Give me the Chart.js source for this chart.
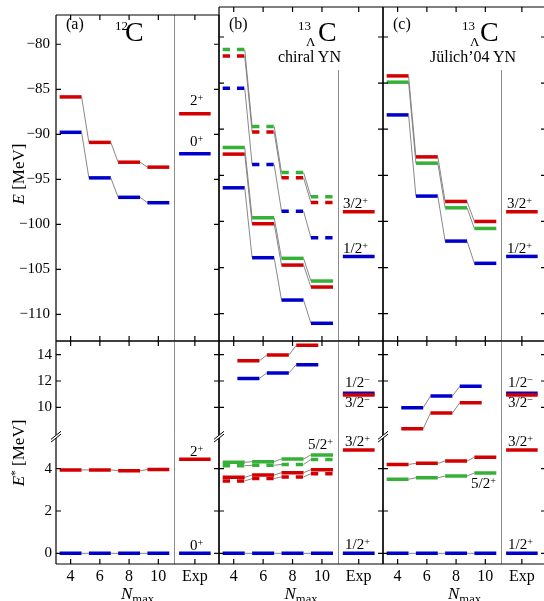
<!DOCTYPE html>
<html><head><meta charset="utf-8">
<script src="https://cdn.jsdelivr.net/npm/chart.js@4"></script>
<style>
html,body{margin:0;padding:0;background:#fff;}
#wrap{position:relative;width:544px;height:601px;overflow:hidden;font-family:'Liberation Serif','Times New Roman',serif;color:#000;}
#wrap canvas{position:absolute;left:0;top:0;}
.lbl{position:absolute;white-space:nowrap;line-height:1;color:#000;}
</style></head>
<body><div id="wrap"></div>
<script>
// ---------------- data ----------------
const NMAX = [4, 6, 8, 10];
const NMAX_ODD = [5, 7, 9];
const X_TICKS = [4, 6, 8, 10, 12.5];
const X_TICK_LABELS = ['4', '6', '8', '10', 'Exp'];
const E_TICKS = [-110, -105, -100, -95, -90, -85, -80];
const EX_TICKS_HIGH = [10, 12, 14];
const EX_TICKS_LOW = [0, 2, 4];

// (a) 12C
const C12_E_0 = [-89.78, -94.84, -97.0, -97.6];
const C12_E_2 = [-85.85, -90.9, -93.1, -93.65];
const C12_EXP_E = [-92.16, -87.72];      // 0+, 2+
const C12_EX_0 = [0, 0, 0, 0];
const C12_EX_2 = [3.94, 3.94, 3.90, 3.96];
const C12_EXP_EX = [0, 4.44];            // 0+, 2+

// (b) 13ΛC chiral YN
const CHI_E_12 = [-96.35, -103.93, -108.52, -111.04];
const CHI_E_32 = [-92.7, -100.25, -104.73, -107.11];
const CHI_E_52 = [-91.98, -99.6, -104.0, -106.46];
const CHI_E_12_D = [-85.56, -93.82, -98.88, -101.77];
const CHI_E_32_D = [-82.06, -90.29, -95.27, -97.94];
const CHI_E_52_D = [-81.37, -89.7, -94.69, -97.33];
const CHI_EX_12M = [12.2, 12.61, 13.24];
const CHI_EX_32M = [13.54, 13.97, 14.71];
const CHI_EX_52 = [4.30, 4.33, 4.46, 4.65];
const CHI_EX_52_D = [4.14, 4.16, 4.20, 4.43];
const CHI_EX_32 = [3.59, 3.70, 3.81, 3.95];
const CHI_EX_32_D = [3.42, 3.53, 3.61, 3.76];
const CHI_EX_12 = [0, 0, 0, 0];

// (c) 13ΛC Jülich'04 YN
const JUL_E_12 = [-88.45, -97.25, -102.13, -104.54];
const JUL_E_32 = [-84.22, -93.0, -97.83, -100.0];
const JUL_E_52 = [-84.9, -93.68, -98.52, -100.76];
const JUL_EX_12M = [9.97, 10.86, 11.6];
const JUL_EX_32M = [8.38, 9.57, 10.35];
const JUL_EX_32 = [4.2, 4.25, 4.36, 4.54];
const JUL_EX_52 = [3.5, 3.57, 3.65, 3.8];
const JUL_EX_12 = [0, 0, 0, 0];

// experiment 13ΛC
const L13C_EXP_E = [-103.79, -98.95];      // 1/2+, 3/2+
const L13C_EXP_EX_LOW = [0, 4.88];         // 1/2+, 3/2+
const L13C_EXP_EX_HIGH = [11.08, 10.93];   // 1/2-, 3/2-

// ---------------- styling / layout ----------------
const RED = '#d20000', BLUE = '#0000cc', GREEN = '#36b036', GRAY = '#7a7a7a';
const X_MIN = 3, X_MAX = 14.15, X_DIV = 11.07, X_EXP = 12.5;
const HW = 0.75, HW_EXP = 1.08, BAR_W = 3.5;
const CW = 560, CH = 601;
const COLS = [[56, 219], [219, 383], [383, 546]];
const ROW_TOP = [7, 341], ROW_HIGH = [341, 436.7], ROW_LOW = [436.7, 564];
const RANGE_TOP = [-112.96, -76.75], RANGE_HIGH = [7.77, 15.04], RANGE_LOW = [-0.504, 5.51];
const FAMILY = "'Liberation Serif','Times New Roman',serif";
const YFONT = {family: FAMILY, size: 15};
const XFONT = {family: FAMILY, size: 16};
const YW = 50, XH = 30;
const wrap = document.getElementById('wrap');

function levels(xs, ys, color, dashed, order) {
  const data = [];
  xs.forEach((x, i) => { data.push({x: x - HW, y: ys[i]}, {x: x + HW, y: ys[i]}); });
  return {
    data, borderColor: color, borderWidth: BAR_W, pointRadius: 0, order, tension: 0,
    segment: {
      borderColor: c => (c.p0DataIndex % 2 === 0 ? color : GRAY),
      borderWidth: c => (c.p0DataIndex % 2 === 0 ? BAR_W : 0.9),
      borderDash: c => (c.p0DataIndex % 2 === 0 && dashed ? [7.3, 7] : [])
    }
  };
}
function expLevel(v, color, order) {
  return {data: [{x: X_EXP - HW_EXP, y: v}, {x: X_EXP + HW_EXP, y: v}], borderColor: color,
          borderWidth: BAR_W, pointRadius: 0, order: order ?? 0};
}

const TL = 5;
const panelPlugin = {
  id: 'panel',
  beforeDatasetsDraw(chart, args, o) {
    const {ctx, chartArea: a} = chart;
    const dx = Math.round(chart.scales.x.getPixelForValue(X_DIV)) + 0.5;
    ctx.save(); ctx.strokeStyle = '#8c8c8c'; ctx.lineWidth = 1;
    ctx.beginPath(); ctx.moveTo(dx, o.divTop != null ? o.divTop : a.top); ctx.lineTo(dx, a.bottom); ctx.stroke();
    ctx.restore();
  },
  afterDraw(chart, args, o) {
    const {ctx, chartArea: a} = chart; const x = chart.scales.x, y = chart.scales.y;
    ctx.save(); ctx.strokeStyle = '#000'; ctx.lineWidth = 1.2; ctx.beginPath();
    if (o.top) { ctx.moveTo(a.left, a.top); ctx.lineTo(a.right, a.top); }
    if (o.bottom) { ctx.moveTo(a.left, a.bottom); ctx.lineTo(a.right, a.bottom); }
    ctx.moveTo(a.left, a.top); ctx.lineTo(a.left, a.bottom);
    ctx.moveTo(a.right, a.top); ctx.lineTo(a.right, a.bottom);
    x.ticks.forEach(t => {
      const px = x.getPixelForValue(t.value);
      if (o.top) { ctx.moveTo(px, a.top); ctx.lineTo(px, a.top + TL); }
      if (o.bottom) { ctx.moveTo(px, a.bottom); ctx.lineTo(px, a.bottom - TL); }
    });
    y.ticks.forEach(t => {
      const py = y.getPixelForValue(t.value);
      ctx.moveTo(a.left, py); ctx.lineTo(a.left + TL, py);
      ctx.moveTo(a.right, py); ctx.lineTo(a.right - TL, py);
    });
    ctx.stroke();
    if (o.brk) breakMark(ctx, a.left, a.top);
    ctx.restore();
  }
};
function breakMark(ctx, X, Y) {
  const g = 1.4;
  ctx.save();
  ctx.fillStyle = '#fff';
  ctx.beginPath(); ctx.moveTo(X - 5, Y + 4 - g); ctx.lineTo(X + 5, Y - 4 - g);
  ctx.lineTo(X + 5, Y - 4 + g); ctx.lineTo(X - 5, Y + 4 + g); ctx.closePath(); ctx.fill();
  ctx.strokeStyle = '#000'; ctx.lineWidth = 1;
  ctx.beginPath();
  ctx.moveTo(X - 5, Y + 4 - g); ctx.lineTo(X + 5, Y - 4 - g);
  ctx.moveTo(X - 5, Y + 4 + g); ctx.lineTo(X + 5, Y - 4 + g);
  ctx.stroke(); ctx.restore();
}

function fmt(v) { return v < 0 ? '\u2212' + Math.abs(v) : String(v); }

function makeChart(o) {
  const cv = document.createElement('canvas');
  cv.width = CW; cv.height = CH; cv.style.width = CW + 'px'; cv.style.height = CH + 'px';
  wrap.appendChild(cv);
  const [L, R] = COLS[o.col]; const [T, B] = o.row;
  const yw = o.col === 0 ? YW : 0;
  const xh = o.xLabels ? XH : 0;
  new Chart(cv, {
    type: 'line',
    data: {datasets: o.datasets},
    options: {
      responsive: false, animation: false, devicePixelRatio: 1, events: [],
      layout: {padding: {left: L - yw, right: CW - R, top: T, bottom: CH - B - xh}},
      plugins: {legend: {display: false}, tooltip: {enabled: false}, panel: o.panel},
      scales: {
        x: {type: 'linear', min: X_MIN, max: X_MAX,
            afterBuildTicks: s => { s.ticks = X_TICKS.map(v => ({value: v})); },
            afterFit: s => { s.height = xh; },
            grid: {display: false, drawTicks: false}, border: {display: false},
            ticks: {display: !!o.xLabels, autoSkip: false, maxRotation: 0, minRotation: 0, padding: 3,
                    font: XFONT, color: '#000', callback: v => X_TICK_LABELS[X_TICKS.indexOf(v)]}},
        y: {type: 'linear', min: o.range[0], max: o.range[1],
            afterBuildTicks: s => { s.ticks = o.yTicks.map(v => ({value: v})); },
            afterFit: s => { s.width = yw; },
            grid: {display: false, drawTicks: false}, border: {display: false},
            ticks: {display: o.col === 0, padding: o.yPad || 5, font: YFONT, color: '#000', callback: v => fmt(v)}}
      }
    },
    plugins: [panelPlugin]
  });
}

// ---- top row ----
makeChart({col: 0, row: ROW_TOP, range: RANGE_TOP, yTicks: E_TICKS, yPad: 6, panel: {top: true, bottom: true},
  datasets: [levels(NMAX, C12_E_2, RED, false, 1), levels(NMAX, C12_E_0, BLUE, false, 1),
             expLevel(C12_EXP_E[0], BLUE), expLevel(C12_EXP_E[1], RED)]});
makeChart({col: 1, row: ROW_TOP, range: RANGE_TOP, yTicks: E_TICKS, panel: {top: true, bottom: true, divTop: 70},
  datasets: [levels(NMAX, CHI_E_12_D, BLUE, true, 2), levels(NMAX, CHI_E_32_D, RED, true, 2), levels(NMAX, CHI_E_52_D, GREEN, true, 2),
             levels(NMAX, CHI_E_12, BLUE, false, 1), levels(NMAX, CHI_E_32, RED, false, 1), levels(NMAX, CHI_E_52, GREEN, false, 1),
             expLevel(L13C_EXP_E[0], BLUE), expLevel(L13C_EXP_E[1], RED)]});
makeChart({col: 2, row: ROW_TOP, range: RANGE_TOP, yTicks: E_TICKS, panel: {top: true, bottom: true, divTop: 70},
  datasets: [levels(NMAX, JUL_E_12, BLUE, false, 1), levels(NMAX, JUL_E_52, GREEN, false, 1), levels(NMAX, JUL_E_32, RED, false, 1),
             expLevel(L13C_EXP_E[0], BLUE), expLevel(L13C_EXP_E[1], RED)]});

// ---- bottom row, upper segment ----
makeChart({col: 0, row: ROW_HIGH, range: RANGE_HIGH, yTicks: EX_TICKS_HIGH, yPad: 4, panel: {top: true}, datasets: []});
makeChart({col: 1, row: ROW_HIGH, range: RANGE_HIGH, yTicks: EX_TICKS_HIGH, panel: {top: true},
  datasets: [levels(NMAX_ODD, CHI_EX_12M, BLUE, false, 1), levels(NMAX_ODD, CHI_EX_32M, RED, false, 1),
             expLevel(L13C_EXP_EX_HIGH[0], BLUE, 1), expLevel(L13C_EXP_EX_HIGH[1], RED, 0)]});
makeChart({col: 2, row: ROW_HIGH, range: RANGE_HIGH, yTicks: EX_TICKS_HIGH, panel: {top: true},
  datasets: [levels(NMAX_ODD, JUL_EX_12M, BLUE, false, 1), levels(NMAX_ODD, JUL_EX_32M, RED, false, 1),
             expLevel(L13C_EXP_EX_HIGH[0], BLUE, 1), expLevel(L13C_EXP_EX_HIGH[1], RED, 0)]});

// ---- bottom row, lower segment ----
makeChart({col: 0, row: ROW_LOW, range: RANGE_LOW, yTicks: EX_TICKS_LOW, yPad: 4, xLabels: true, panel: {bottom: true, brk: true},
  datasets: [levels(NMAX, C12_EX_2, RED, false, 1), levels(NMAX, C12_EX_0, BLUE, false, 1),
             expLevel(C12_EXP_EX[0], BLUE), expLevel(C12_EXP_EX[1], RED)]});
makeChart({col: 1, row: ROW_LOW, range: RANGE_LOW, yTicks: EX_TICKS_LOW, xLabels: true, panel: {bottom: true, brk: true},
  datasets: [levels(NMAX, CHI_EX_52_D, GREEN, true, 2), levels(NMAX, CHI_EX_32_D, RED, true, 2),
             levels(NMAX, CHI_EX_52, GREEN, false, 1), levels(NMAX, CHI_EX_32, RED, false, 1), levels(NMAX, CHI_EX_12, BLUE, false, 1),
             expLevel(L13C_EXP_EX_LOW[0], BLUE), expLevel(L13C_EXP_EX_LOW[1], RED)]});
makeChart({col: 2, row: ROW_LOW, range: RANGE_LOW, yTicks: EX_TICKS_LOW, xLabels: true, panel: {bottom: true, brk: true},
  datasets: [levels(NMAX, JUL_EX_32, RED, false, 1), levels(NMAX, JUL_EX_52, GREEN, false, 1), levels(NMAX, JUL_EX_12, BLUE, false, 1),
             expLevel(L13C_EXP_EX_LOW[0], BLUE), expLevel(L13C_EXP_EX_LOW[1], RED)]});

// ---------------- text labels ----------------
const SUP = s => `<span style="position:relative;top:-0.42em;font-size:0.68em">${s}</span>`;
function lab(x, base, size, html, extra) {
  const d = document.createElement('div');
  d.className = 'lbl';
  d.style.left = x + 'px';
  d.style.top = (base - 0.8375 * size) + 'px';
  d.style.fontSize = size + 'px';
  if (extra) d.style.cssText += extra;
  d.innerHTML = html;
  wrap.appendChild(d);
  return d;
}
// panel tags and nuclei
lab(66, 29, 16, '(a)');
lab(115, 29.5, 13, '12');
lab(125, 41.5, 28, 'C');
lab(229, 29, 16, '(b)');
lab(298, 29.5, 13, '13');
lab(306, 45.5, 13, '\u039B');
lab(318, 41.5, 28, 'C');
lab(278, 62, 16, 'chiral YN');
lab(393, 29, 16, '(c)');
lab(462, 29.5, 13, '13');
lab(470, 45.5, 13, '\u039B');
lab(480, 41.5, 28, 'C');
lab(430, 62, 16, 'J\u00FClich\u201904 YN');
// state labels, top row
const ST = 15;
lab(190, 105.5, ST, '2' + SUP('+'));
lab(190, 146.5, ST, '0' + SUP('+'));
lab(343, 209, ST, '3/2' + SUP('+'));
lab(343, 254, ST, '1/2' + SUP('+'));
lab(507, 209, ST, '3/2' + SUP('+'));
lab(507, 254, ST, '1/2' + SUP('+'));
// state labels, bottom row
lab(190, 456.5, ST, '2' + SUP('+'));
lab(190, 550.5, ST, '0' + SUP('+'));
lab(345, 388, ST, '1/2' + SUP('\u2212'));
lab(345, 408, ST, '3/2' + SUP('\u2212'));
lab(345, 447, ST, '3/2' + SUP('+'));
lab(345, 550, ST, '1/2' + SUP('+'));
lab(308, 450, ST, '5/2' + SUP('+'));
lab(508, 388, ST, '1/2' + SUP('\u2212'));
lab(508, 408, ST, '3/2' + SUP('\u2212'));
lab(508, 447, ST, '3/2' + SUP('+'));
lab(508, 550, ST, '1/2' + SUP('+'));
lab(471, 489, ST, '5/2' + SUP('+'));
// axis titles
function rot(cx, cy, html) {
  const d = document.createElement('div');
  d.className = 'lbl';
  d.style.cssText += `left:${cx}px;top:${cy}px;font-size:17px;transform:translate(-50%,-50%) rotate(-90deg);`;
  d.innerHTML = html; wrap.appendChild(d);
}
rot(18, 174, '<i>E</i> [MeV]');
rot(18, 453, '<i>E</i>' + SUP('*') + ' [MeV]');
function nmax(cx) {
  const d = lab(cx, 599.5, 17, '<i>N</i><span style="position:relative;top:0.28em;font-size:0.74em">max</span>');
  d.style.transform = 'translateX(-50%)';
}
nmax(137.5); nmax(301); nmax(464.5);
</script>
</body></html>
